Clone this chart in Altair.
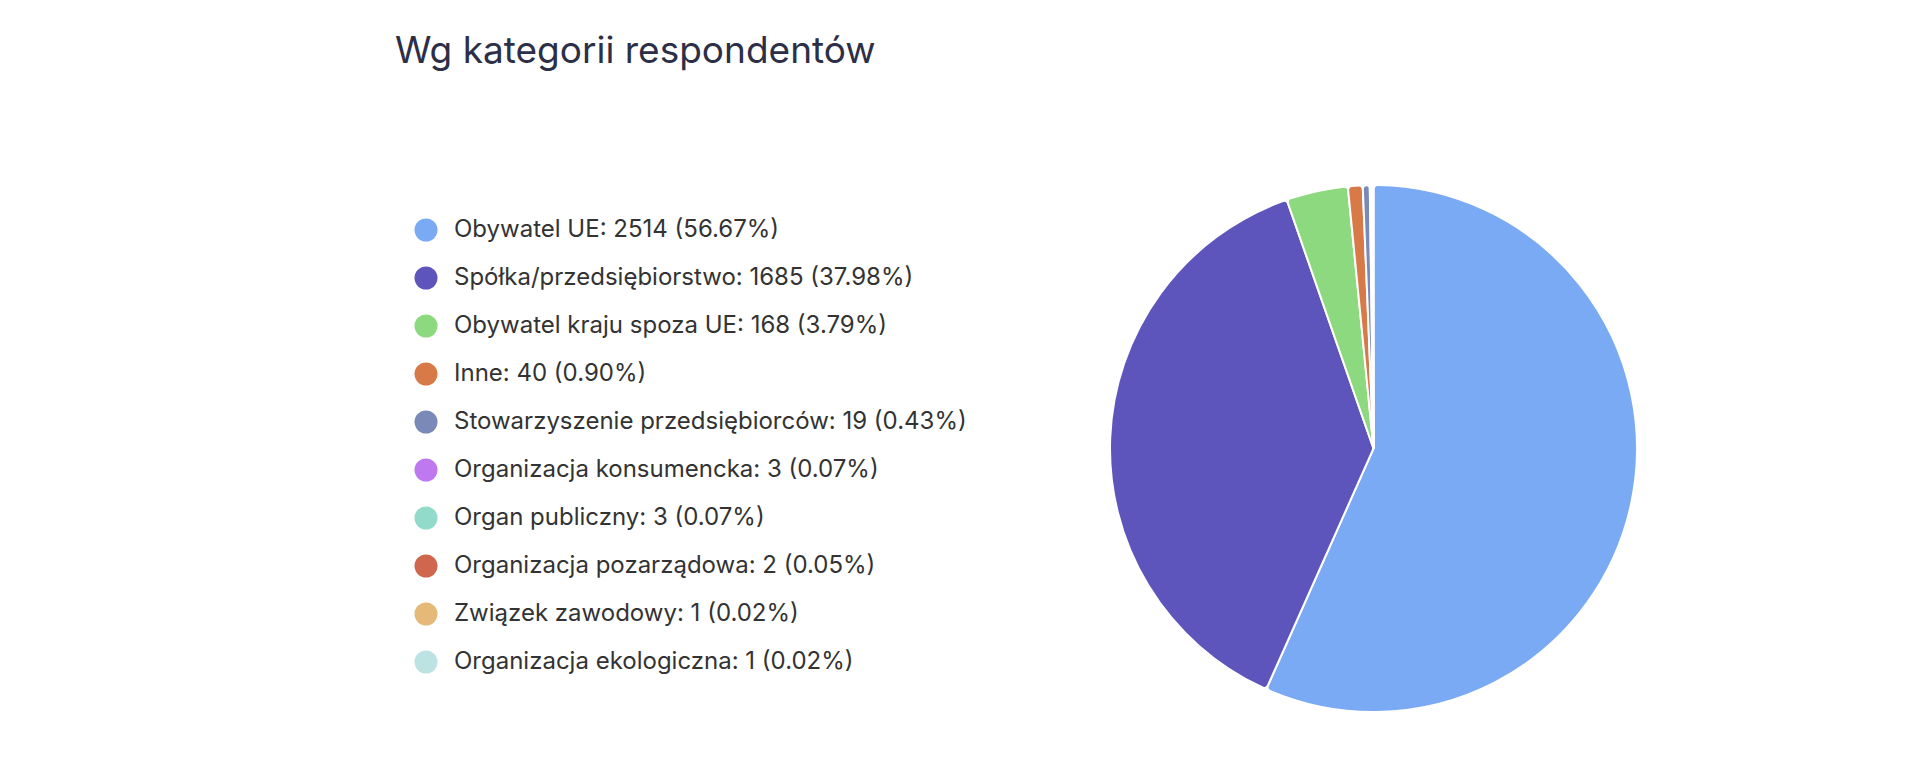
import altair as alt
import pandas as pd

categories = [
    "Obywatel UE",
    "Spółka/przedsiębiorstwo",
    "Obywatel kraju spoza UE",
    "Inne",
    "Stowarzyszenie przedsiębiorców",
    "Organizacja konsumencka",
    "Organ publiczny",
    "Organizacja pozarządowa",
    "Związek zawodowy",
    "Organizacja ekologiczna",
]
counts = [2514, 1685, 168, 40, 19, 3, 3, 2, 1, 1]
percents = [56.67, 37.98, 3.79, 0.90, 0.43, 0.07, 0.07, 0.05, 0.02, 0.02]
colors = [
    "#7BAAF4", "#5D55BC", "#8DD980", "#D77A47", "#7A89B8",
    "#BF79F0", "#92DBCA", "#D0664E", "#E5B977", "#BCE3E1",
]

labels = [f"{c}: {n} ({p:.2f}%)" for c, n, p in zip(categories, counts, percents)]
df = pd.DataFrame({"label": labels, "count": counts, "idx": list(range(len(labels)))})

chart = (
    alt.Chart(df)
    .mark_arc(stroke="white", strokeWidth=2, cornerRadius=4)
    .encode(
        theta=alt.Theta("count:Q", stack=True),
        color=alt.Color(
            "label:N",
            scale=alt.Scale(domain=labels, range=colors),
            sort=labels,
            legend=alt.Legend(
                title=None,
                orient="none",
                legendX=-696,
                legendY=33,
                symbolType="circle",
                symbolSize=529,
                symbolStrokeWidth=0,
                symbolOpacity=1,
                labelFontSize=24,
                labelFont="Inter",
                labelColor="#333333",
                labelOffset=16,
                rowPadding=24,
                padding=0,
                labelLimit=0,
            ),
        ),
        order=alt.Order("idx:Q"),
    )
    .properties(
        width=527,
        height=527,
        title=alt.TitleParams(
            text="Wg kategorii respondentów",
            anchor="start",
            frame="group",
            dx=-715,
            fontSize=37,
            font="Inter",
            fontWeight="normal",
            color="#2C2F47",
            baseline="top",
            offset=110,
        ),
        padding={"left": 387, "top": 25, "right": 0, "bottom": 0},
    )
    .configure_view(stroke=None)
)

chart.save("out.html", embed_options={"renderer": "svg", "actions": False})
